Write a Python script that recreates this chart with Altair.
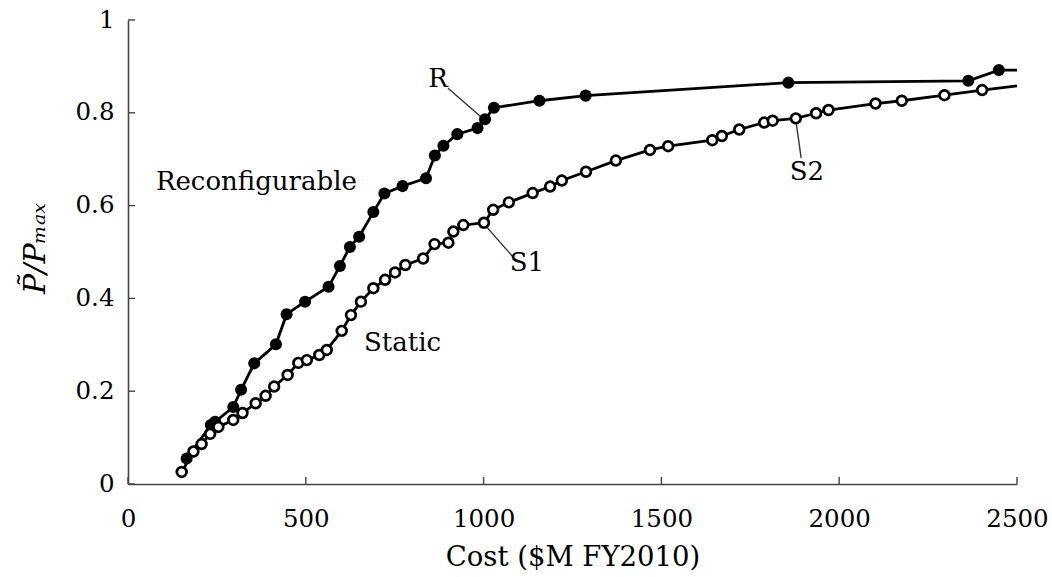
import altair as alt
import pandas as pd

# Reconfigurable (R) series: cost ($M FY2010) and normalised performance
r_cost = [165, 233, 245, 296, 318, 355, 416, 446, 498, 564, 596, 624, 650, 690, 721,
          772, 838, 863, 887, 926, 983, 1004, 1029, 1157, 1287, 1857, 2363, 2449]
r_perf = [0.055, 0.127, 0.134, 0.166, 0.203, 0.260, 0.301, 0.366, 0.393, 0.425, 0.470,
          0.511, 0.533, 0.586, 0.626, 0.642, 0.659, 0.708, 0.729, 0.754, 0.767, 0.786,
          0.811, 0.826, 0.837, 0.865, 0.869, 0.892]
r_line_end = (2500, 0.892)

# Static (S) series
s_cost = [151, 184, 207, 231, 254, 296, 322, 359, 387, 411, 449, 479, 503, 538, 559,
          601, 627, 655, 690, 723, 751, 780, 830, 862, 901, 915, 943, 1001, 1027, 1071,
          1138, 1187, 1220, 1288, 1372, 1468, 1519, 1643, 1670, 1719, 1789, 1813, 1878,
          1935, 1970, 2102, 2176, 2296, 2402]
s_perf = [0.026, 0.070, 0.086, 0.108, 0.123, 0.138, 0.153, 0.174, 0.190, 0.210, 0.235,
          0.261, 0.267, 0.278, 0.289, 0.330, 0.364, 0.393, 0.422, 0.440, 0.456, 0.472,
          0.486, 0.517, 0.520, 0.544, 0.558, 0.563, 0.591, 0.607, 0.627, 0.641, 0.654,
          0.673, 0.697, 0.720, 0.728, 0.741, 0.750, 0.764, 0.779, 0.783, 0.788, 0.799,
          0.806, 0.820, 0.826, 0.838, 0.849]
s_line_end = (2500, 0.858)

# Annotation labels and leader lines
label_text = ["Reconfigurable", "Static", "R", "S1", "S2"]
label_x = [361, 772, 872, 1122, 1909]
label_y = [0.651, 0.303, 0.872, 0.476, 0.672]
leader_x = [900, 1004, 1878]
leader_y = [0.853, 0.558, 0.784]
leader_x2 = [993, 1083, 1893]
leader_y2 = [0.791, 0.489, 0.703]

x_ticks = [0, 500, 1000, 1500, 2000, 2500]
y_ticks = [0, 0.2, 0.4, 0.6, 0.8, 1.0]

FONT = "DejaVu Serif"

r_df = pd.DataFrame({"cost": r_cost, "perf": r_perf})
r_line_df = pd.concat([r_df, pd.DataFrame({"cost": [r_line_end[0]], "perf": [r_line_end[1]]})],
                      ignore_index=True)
s_df = pd.DataFrame({"cost": s_cost, "perf": s_perf})
s_line_df = pd.concat([s_df, pd.DataFrame({"cost": [s_line_end[0]], "perf": [s_line_end[1]]})],
                      ignore_index=True)
lab_df = pd.DataFrame({"text": label_text, "cost": label_x, "perf": label_y})
lead_df = pd.DataFrame({"cost": leader_x, "perf": leader_y, "cost2": leader_x2, "perf2": leader_y2})
xt_df = pd.DataFrame({"cost": x_ticks})
yt_df = pd.DataFrame({"perf": y_ticks})

xscale = alt.Scale(domain=[0, 2500], nice=False)
yscale = alt.Scale(domain=[0, 1], nice=False)

xaxis = alt.Axis(values=x_ticks, format="d", title="Cost ($M FY2010)", ticks=False, grid=False,
                 labelFont=FONT, labelFontSize=24.5, labelColor="#000", labelPadding=23,
                 labelFlush=False, labelOverlap=False,
                 domainColor="#444", domainWidth=1.6,
                 titleFont=FONT, titleFontSize=27.5, titleFontWeight="normal", titleColor="#000",
                 titleY=73, titleBaseline="middle")
yaxis = alt.Axis(values=y_ticks, title="P\u0303/P\u2098\u2090\u2093", ticks=False, grid=False,
                 labelFont=FONT, labelFontSize=24.5, labelColor="#000", labelPadding=14,
                 labelFlush=False, labelOverlap=False,
                 labelExpr="datum.value == 0 ? '0' : datum.value == 1 ? '1' : format(datum.value, '.1f')",
                 domainColor="#444", domainWidth=1.6,
                 titleFont=FONT, titleFontSize=30, titleFontWeight="normal", titleFontStyle="italic",
                 titleColor="#000", titleAngle=-90, titleX=-93, titleY=228,
                 titleAlign="center", titleBaseline="middle")

x_enc = alt.X("cost:Q", scale=xscale, axis=xaxis)
y_enc = alt.Y("perf:Q", scale=yscale, axis=yaxis)

r_line = alt.Chart(r_line_df).mark_line(color="black", strokeWidth=2.8).encode(
    x=x_enc, y=y_enc, order="cost:Q")
r_pts = alt.Chart(r_df).mark_point(shape="circle", filled=True, color="black", size=145,
                                    opacity=1).encode(x="cost:Q", y="perf:Q")
s_line = alt.Chart(s_line_df).mark_line(color="black", strokeWidth=2.8).encode(
    x="cost:Q", y="perf:Q", order="cost:Q")
s_pts = alt.Chart(s_df).mark_point(shape="circle", filled=True, fill="white", stroke="black",
                                    strokeWidth=2.7, size=95, opacity=1).encode(
    x="cost:Q", y="perf:Q")
leaders = alt.Chart(lead_df).mark_rule(color="#333", strokeWidth=1.4).encode(
    x="cost:Q", y="perf:Q", x2="cost2:Q", y2="perf2:Q")
labels = alt.Chart(lab_df).mark_text(font=FONT, fontSize=26, color="#000",
                                     align="center", baseline="middle").encode(
    x="cost:Q", y="perf:Q", text="text:N")
xticks = alt.Chart(xt_df).mark_rule(color="#444", strokeWidth=1.4).encode(
    x="cost:Q", y=alt.value(464), y2=alt.value(457))
yticks = alt.Chart(yt_df).mark_rule(color="#444", strokeWidth=1.4).encode(
    y="perf:Q", x=alt.value(0), x2=alt.value(7))

chart = alt.layer(r_line, s_line, leaders, xticks, yticks, r_pts, s_pts, labels).properties(
    width=889, height=464,
    autosize="none",
    padding={"left": 128, "top": 20, "right": 35, "bottom": 93},
    background="white",
).configure_view(stroke=None)

chart.save("out.html", embed_options={"renderer": "svg", "actions": False})
